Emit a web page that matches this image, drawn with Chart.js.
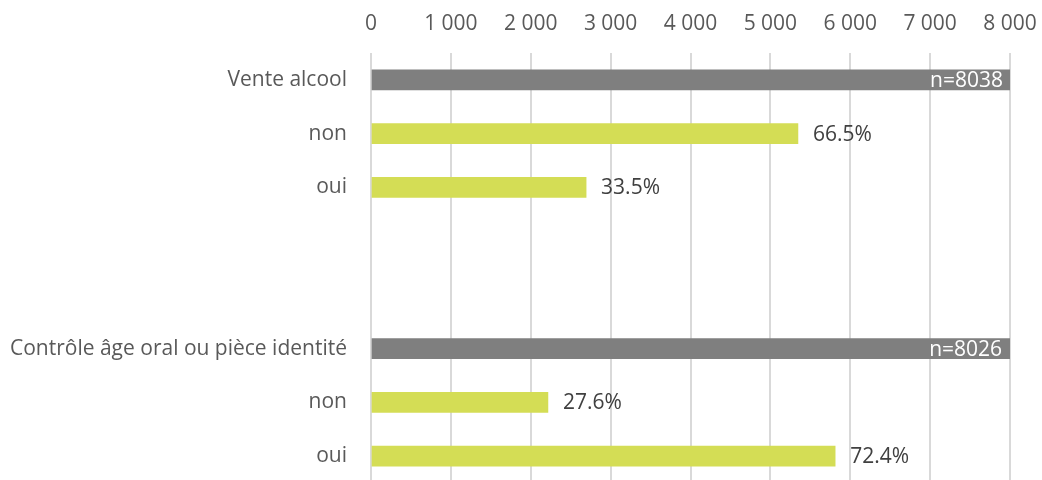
<!DOCTYPE html>
<html>
<head>
<meta charset="utf-8">
<script src="https://cdn.jsdelivr.net/npm/chart.js@4/dist/chart.umd.min.js"></script>
<style>
  html, body { margin: 0; padding: 0; background: #fff; overflow: hidden; }
  canvas { display: block; }
</style>
</head>
<body>
<canvas id="chart" width="1042" height="483"></canvas>
<script>
// categories (empty rows = gap between the two groups)
var categories = ['Vente alcool', 'non', 'oui', '', '', 'Contrôle âge oral ou pièce identité', 'non', 'oui'];
// counts per row
var counts = [8038, 5345, 2693, null, null, 8026, 2215, 5811];
// text shown next to each bar
var barLabels = ['n=8038', '66.5%', '33.5%', '', '', 'n=8026', '27.6%', '72.4%'];
// true = total row (grey)
var isTotal = [true, false, false, false, false, true, false, false];
var xTicks = [0, 1000, 2000, 3000, 4000, 5000, 6000, 7000, 8000];

var GREY = '#7f7f7f', GREEN = '#d4dd55';
var FONT = '"Open Sans", sans-serif';

function fmt(v) {
    return String(v).replace(/\B(?=(\d{3})+(?!\d))/g, ' ');
}

// labels on bars: inside end (white) for totals, outside end for the rest
var barText = {
    id: 'barText',
    afterDatasetsDraw: function(chart) {
        var ctx = chart.ctx;
        var meta = chart.getDatasetMeta(0);
        ctx.save();
        ctx.font = '21px ' + FONT;
        ctx.textBaseline = 'middle';
        meta.data.forEach(function(bar, i) {
            if (!barLabels[i] || counts[i] == null) return;
            if (isTotal[i]) {
                ctx.fillStyle = '#ffffff';
                ctx.textAlign = 'right';
                ctx.fillText(barLabels[i], bar.x - 10, bar.y + 1);
            } else {
                ctx.fillStyle = '#404040';
                ctx.textAlign = 'left';
                ctx.fillText(barLabels[i], bar.x + 15, bar.y + 1);
            }
        });
        ctx.restore();
    }
};

var ctx = document.getElementById('chart').getContext('2d');
var chart = new Chart(ctx, {
    type: 'bar',
    data: {
        labels: categories,
        datasets: [{
            data: counts,
            backgroundColor: isTotal.map(function(t) { return t ? GREY : GREEN; }),
            barThickness: 20,
            borderWidth: 0
        }]
    },
    options: {
        indexAxis: 'y',
        responsive: false,
        animation: false,
        layout: { padding: { left: 0, right: 32, top: 0, bottom: 0 } },
        plugins: {
            legend: { display: false },
            tooltip: { enabled: false }
        },
        scales: {
            x: {
                position: 'top',
                min: 0,
                max: 8000,
                afterBuildTicks: function(scale) {
                    scale.ticks = xTicks.map(function(v) { return { value: v }; });
                },
                afterFit: function(scale) {
                    scale.height = 53;
                    scale.paddingLeft = 0;
                    scale.paddingRight = 0;
                },
                grid: { color: '#d9d9d9', lineWidth: 2, drawTicks: false },
                border: { display: false },
                ticks: {
                    color: '#595959',
                    font: { family: FONT, size: 21 },
                    padding: 16,
                    maxRotation: 0,
                    callback: function(v) { return fmt(v); }
                }
            },
            y: {
                afterFit: function(scale) {
                    scale.width = 371;
                    scale.paddingTop = 0;
                    scale.paddingBottom = 0;
                },
                grid: { display: false },
                border: { display: false },
                ticks: {
                    color: '#595959',
                    font: { family: FONT, size: 21 },
                    padding: 16,
                    autoSkip: false
                }
            }
        }
    },
    plugins: [barText]
});
</script>
</body>
</html>
